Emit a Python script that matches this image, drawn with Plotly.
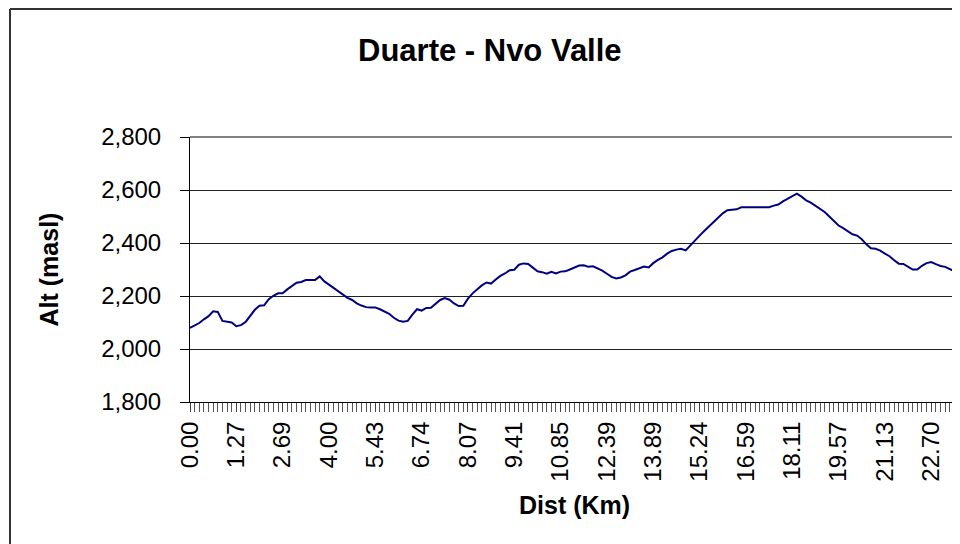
import plotly.graph_objects as go

# Elevation (m) per distance sample (category index along the x axis)
elev = [
    2080, 2090, 2098, 2112, 2124, 2142, 2140, 2106, 2104, 2100,
    2086, 2090, 2102, 2124, 2148, 2163, 2165, 2188, 2201, 2210,
    2210, 2225, 2238, 2250, 2253, 2260, 2260, 2260, 2274, 2255,
    2243, 2230, 2220, 2205, 2193, 2185, 2172, 2164, 2158, 2157,
    2157, 2150, 2143, 2133, 2118, 2107, 2103, 2106, 2130, 2150,
    2145, 2155, 2156, 2172, 2185, 2192, 2186, 2172, 2162, 2163,
    2190, 2210, 2226, 2240, 2251, 2247, 2262, 2276, 2285, 2297,
    2299, 2318, 2323, 2321, 2307, 2293, 2290, 2284, 2291, 2285,
    2292, 2293, 2300, 2307, 2315, 2316, 2310, 2312, 2305, 2296,
    2284, 2272, 2266, 2270, 2278, 2292, 2298, 2305, 2311, 2308,
    2324, 2336, 2346, 2360, 2370, 2375, 2378, 2372, 2392, 2412,
    2428, 2445, 2462, 2480, 2494, 2512, 2524, 2525, 2527, 2535,
    2535, 2535, 2535, 2535, 2535, 2535, 2541, 2545, 2557, 2567,
    2577, 2586, 2575, 2561, 2552, 2541, 2529, 2517, 2500, 2483,
    2466, 2456, 2444, 2433, 2428, 2414, 2395, 2380, 2378, 2371,
    2360, 2350, 2335, 2322, 2321, 2312, 2300, 2300, 2314, 2324,
    2328, 2320, 2313, 2310, 2300, 2293, 2284,
]

# Distance labels (km) shown every 10th category
dist_labels = ["0.00", "1.27", "2.69", "4.00", "5.43", "6.74", "8.07", "9.41",
               "10.85", "12.39", "13.89", "15.24", "16.59", "18.11", "19.57",
               "21.13", "22.70"]
label_every = 10

y_ticks = [1800, 2000, 2200, 2400, 2600, 2800]

title_text = "Duarte - Nvo Valle"
x_title = "Dist (Km)"
y_title = "Alt (masl)"

FONT = "Liberation Sans, Arial, sans-serif"

cats = list(range(len(elev)))
tickvals = [i * label_every for i in range(len(dist_labels))]

fig = go.Figure(
    go.Scatter(
        x=cats, y=elev, mode="lines",
        line=dict(color="#000080", width=2),
        hoverinfo="y",
    )
)

W, H = 960, 544
L, T, R, B = 182, 129, 9, 150
pw = W - L - R
ph = H - T - B


def px(xs):
    return (xs - L) / pw


def py(ys):
    return (H - B - ys) / ph


fig.update_layout(
    width=W, height=H,
    margin=dict(l=L, r=R, t=T, b=B, pad=0),
    paper_bgcolor="white", plot_bgcolor="white",
    showlegend=False,
    font=dict(family=FONT, color="black"),
    xaxis=dict(
        range=[0, len(elev) - 1],
        tickmode="array", tickvals=tickvals, ticktext=dist_labels,
        tickangle=-90,
        ticks="outside", ticklen=9, tickcolor="#444", tickwidth=1,
        showline=True, linecolor="black", linewidth=1,
        showgrid=False, zeroline=False,
        tickfont=dict(size=24, family=FONT),
        minor=dict(tickmode="linear", tick0=0, dtick=1, ticks="outside",
                   ticklen=9, tickcolor="#555", tickwidth=1, showgrid=False),
    ),
    yaxis=dict(
        range=[y_ticks[0], y_ticks[-1]],
        tickmode="array", tickvals=y_ticks,
        tickformat=",",
        ticks="outside", ticklen=9, tickcolor="black", tickwidth=1,
        showline=True, linecolor="black", linewidth=1,
        showgrid=True, gridcolor="#222", gridwidth=1,
        zeroline=False,
        tickfont=dict(size=24, family=FONT),
        ticklabelstandoff=14,
    ),
    shapes=[
        dict(type="line", xref="paper", yref="paper",
             x0=px(2), y0=py(1), x1=px(1000), y1=py(1),
             line=dict(color="#333", width=2), layer="above"),
        dict(type="line", xref="paper", yref="paper",
             x0=px(2), y0=py(1), x1=px(2), y1=py(600),
             line=dict(color="#333", width=2), layer="above"),
        dict(type="line", xref="paper", yref="paper",
             x0=0, y0=1, x1=1, y1=1,
             line=dict(color="#808080", width=2), layer="above"),
        dict(type="line", xref="paper", yref="paper",
             x0=1, y0=0, x1=1, y1=1,
             line=dict(color="#808080", width=2), layer="above"),
    ],
    annotations=[
        dict(text="<b>%s</b>" % title_text, xref="paper", yref="paper",
             x=px(482), y=py(42), showarrow=False,
             xanchor="center", yanchor="middle",
             font=dict(size=31, family=FONT)),
        dict(text="<b>%s</b>" % y_title, xref="paper", yref="paper",
             x=px(40), y=0.5, showarrow=False, textangle=-90,
             xanchor="center", yanchor="middle",
             font=dict(size=25, family=FONT)),
        dict(text="<b>%s</b>" % x_title, xref="paper", yref="paper",
             x=0.5, y=py(497), showarrow=False,
             xanchor="center", yanchor="middle",
             font=dict(size=25, family=FONT)),
    ],
)

fig.write_html("out.html")
